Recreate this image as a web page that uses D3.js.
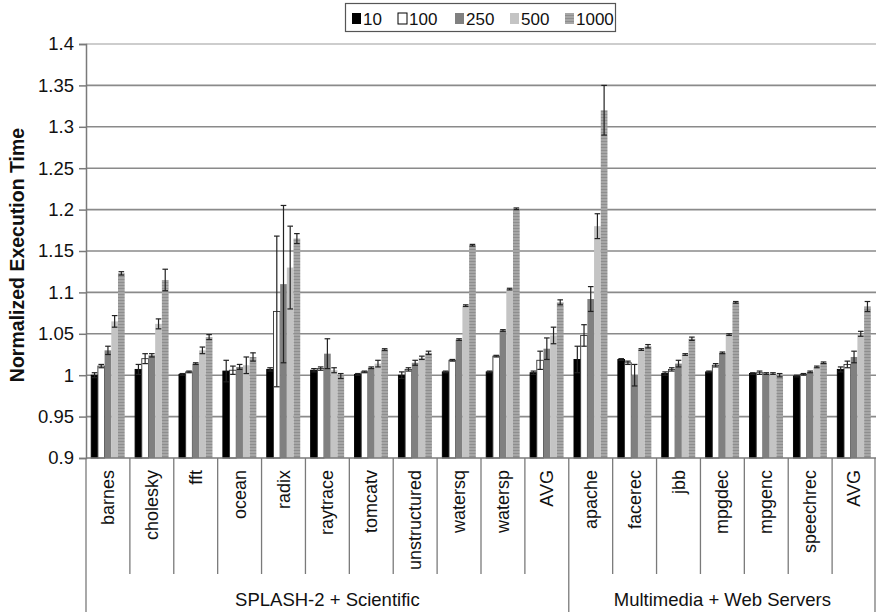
<!DOCTYPE html>
<html>
<head>
<meta charset="utf-8">
<script src="https://cdn.jsdelivr.net/npm/d3@7"></script>
<style>
  body { margin: 0; background: #fff; }
  svg { display: block; font-family: "Liberation Sans", Arial, sans-serif; }
</style>
</head>
<body>
<svg width="876" height="612"></svg>
<script>
const categories = ['barnes', 'cholesky', 'fft', 'ocean', 'radix', 'raytrace', 'tomcatv', 'unstructured',
  'watersq', 'watersp', 'AVG', 'apache', 'facerec', 'jbb', 'mpgdec', 'mpgenc', 'speechrec', 'AVG'];
const groups = [
  { name: 'SPLASH-2 + Scientific', from: 0, to: 10 },
  { name: 'Multimedia + Web Servers', from: 11, to: 17 }
];
const seriesNames = ['10', '100', '250', '500', '1000'];

const v10 = [1.000, 1.007, 1.001, 1.005, 1.007, 1.006, 1.001, 1.000, 1.004, 1.004, 1.003, 1.019, 1.019, 1.002, 1.004, 1.002, 0.999, 1.007];
const v100 = [1.011, 1.020, 1.004, 1.006, 1.077, 1.008, 1.004, 1.007, 1.018, 1.023, 1.018, 1.048, 1.015, 1.007, 1.012, 1.003, 1.001, 1.013];
const v250 = [1.030, 1.024, 1.014, 1.010, 1.110, 1.026, 1.009, 1.015, 1.043, 1.054, 1.032, 1.092, 1.000, 1.014, 1.027, 1.002, 1.004, 1.022];
const v500 = [1.065, 1.062, 1.030, 1.012, 1.130, 1.006, 1.014, 1.021, 1.084, 1.104, 1.048, 1.180, 1.031, 1.025, 1.049, 1.002, 1.010, 1.050];
const v1000 = [1.123, 1.115, 1.046, 1.022, 1.165, 0.999, 1.031, 1.027, 1.157, 1.201, 1.088, 1.320, 1.035, 1.044, 1.088, 1.000, 1.015, 1.083];

// error bar half-widths
const e10 = [0.003, 0.006, 0.001, 0.013, 0.002, 0.002, 0.001, 0.004, 0.001, 0.001, 0.002, 0.016, 0.001, 0.002, 0.001, 0.001, 0.001, 0.003];
const e100 = [0.002, 0.006, 0.001, 0.005, 0.091, 0.002, 0.001, 0.002, 0.001, 0.001, 0.011, 0.013, 0.002, 0.002, 0.002, 0.002, 0.001, 0.004];
const e250 = [0.005, 0.002, 0.001, 0.003, 0.095, 0.018, 0.001, 0.003, 0.001, 0.001, 0.013, 0.015, 0.013, 0.004, 0.001, 0.001, 0.001, 0.007];
const e500 = [0.007, 0.006, 0.004, 0.010, 0.050, 0.003, 0.004, 0.002, 0.001, 0.001, 0.010, 0.015, 0.001, 0.001, 0.001, 0.001, 0.001, 0.003];
const e1000 = [0.002, 0.013, 0.003, 0.005, 0.006, 0.003, 0.001, 0.002, 0.001, 0.001, 0.003, 0.030, 0.002, 0.002, 0.001, 0.002, 0.001, 0.006];

const yTicks = [0.9, 0.95, 1, 1.05, 1.1, 1.15, 1.2, 1.25, 1.3, 1.35, 1.4];

const values = [v10, v100, v250, v500, v1000];
const errors = [e10, e100, e250, e500, e1000];
const fills = ['#000', '#fff', '#808080', '#c4c4c4', 'url(#stripes)'];
const strokes = ['#000', '#333', 'none', 'none', 'none'];

const plotL = 86, plotR = 876, plotT = 44, plotB = 458;

const svg = d3.select('svg');

// striped pattern for the 1000 series
const pat = svg.append('defs').append('pattern')
  .attr('id', 'stripes').attr('patternUnits', 'userSpaceOnUse')
  .attr('width', 4).attr('height', 3);
pat.append('rect').attr('width', 4).attr('height', 3).attr('fill', '#a6a6a6');
pat.append('rect').attr('width', 4).attr('height', 1).attr('fill', '#8e8e8e');

const x = d3.scaleBand().domain(d3.range(categories.length)).range([plotL, plotR]).padding(0);
const xs = d3.scaleBand().domain(d3.range(seriesNames.length))
  .range([5.2, x.bandwidth() - 5.2]).padding(0);
const y = d3.scaleLinear().domain([0.9, 1.4]).range([plotB, plotT]);

// gridlines
svg.append('g').selectAll('line').data(yTicks.filter(t => t > 0.9)).join('line')
  .attr('x1', plotL).attr('x2', plotR)
  .attr('y1', d => y(d)).attr('y2', d => y(d))
  .attr('stroke', d => d === 1.4 ? '#bdbdbd' : '#8a8a8a')
  .attr('stroke-width', 1.6);

// y axis
const yAxis = svg.append('g').attr('transform', `translate(${plotL},0)`)
  .call(d3.axisLeft(y).tickValues(yTicks).tickSize(7).tickPadding(5).tickFormat(d3.format('')));
yAxis.select('.domain').attr('stroke', '#7a7a7a').attr('stroke-width', 1.5);
yAxis.selectAll('.tick line').attr('stroke', '#7a7a7a').attr('stroke-width', 1.5);
yAxis.selectAll('.tick text').attr('font-size', 18.5).attr('fill', '#111')
  .attr('font-family', '"Liberation Sans", Arial, sans-serif');

svg.append('text')
  .attr('transform', `translate(24,${(plotT + plotB) / 2 + 4}) rotate(-90)`)
  .attr('text-anchor', 'middle')
  .attr('font-size', 19.5).attr('font-weight', 'bold').attr('fill', '#111')
  .text('Normalized Execution Time');

// bars
const barData = [];
values.forEach((vals, s) => vals.forEach((v, i) => barData.push({ s, i, v, e: errors[s][i] })));

svg.append('g').selectAll('rect').data(barData).join('rect')
  .attr('x', d => x(d.i) + xs(d.s))
  .attr('width', xs.bandwidth())
  .attr('y', d => y(d.v))
  .attr('height', d => plotB - y(d.v))
  .attr('fill', d => fills[d.s])
  .attr('stroke', d => strokes[d.s])
  .attr('stroke-width', 0.9);

// error bars
const eb = svg.append('g').attr('stroke', '#222').attr('stroke-width', 1.2);
barData.forEach(d => {
  const cx = x(d.i) + xs(d.s) + xs.bandwidth() / 2;
  const y1 = y(d.v + d.e), y2 = y(d.v - d.e);
  eb.append('line').attr('x1', cx).attr('x2', cx).attr('y1', y1).attr('y2', y2);
  eb.append('line').attr('x1', cx - 2.8).attr('x2', cx + 2.8).attr('y1', y1).attr('y2', y1);
  eb.append('line').attr('x1', cx - 2.8).attr('x2', cx + 2.8).attr('y1', y2).attr('y2', y2);
});

// x axis line
svg.append('line').attr('x1', plotL).attr('x2', plotR).attr('y1', plotB).attr('y2', plotB)
  .attr('stroke', '#7a7a7a').attr('stroke-width', 1.5);

// category separators
const groupEdges = new Set([0, 11, 18]);
svg.append('g').selectAll('line').data(d3.range(categories.length + 1)).join('line')
  .attr('x1', i => i < categories.length ? x(i) : plotR - 1)
  .attr('x2', i => i < categories.length ? x(i) : plotR - 1)
  .attr('y1', plotB)
  .attr('y2', i => groupEdges.has(i) ? 612 : 574)
  .attr('stroke', '#7a7a7a').attr('stroke-width', 1.3);

// category labels
svg.append('g').selectAll('text').data(categories).join('text')
  .attr('transform', (d, i) => `translate(${x(i) + x.bandwidth() / 2 + 6},470) rotate(-90)`)
  .attr('text-anchor', 'end')
  .attr('font-size', 18).attr('fill', '#111')
  .text(d => d);

// group labels
svg.append('g').selectAll('text').data(groups).join('text')
  .attr('x', g => (x(g.from) + (g.to + 1 < categories.length ? x(g.to + 1) : plotR)) / 2)
  .attr('y', 606)
  .attr('text-anchor', 'middle')
  .attr('font-size', 18.5).attr('fill', '#111')
  .text(g => g.name);

// legend
const legend = svg.append('g');
legend.append('rect').attr('x', 345.5).attr('y', 3.5).attr('width', 270).attr('height', 28)
  .attr('fill', '#fff').attr('stroke', '#555').attr('stroke-width', 1.2);
const legX = [352, 398, 455, 510, 565];
const legFill = ['#000', '#fff', '#808080', '#c4c4c4', 'url(#stripes)'];
seriesNames.forEach((n, i) => {
  legend.append('rect').attr('x', legX[i]).attr('y', 13).attr('width', 9).attr('height', 11)
    .attr('fill', legFill[i]).attr('stroke', i === 1 ? '#000' : 'none').attr('stroke-width', 1);
  legend.append('text').attr('x', legX[i] + 11).attr('y', 24.5)
    .attr('font-size', 17).attr('fill', '#111').text(n);
});
</script>
</body>
</html>
